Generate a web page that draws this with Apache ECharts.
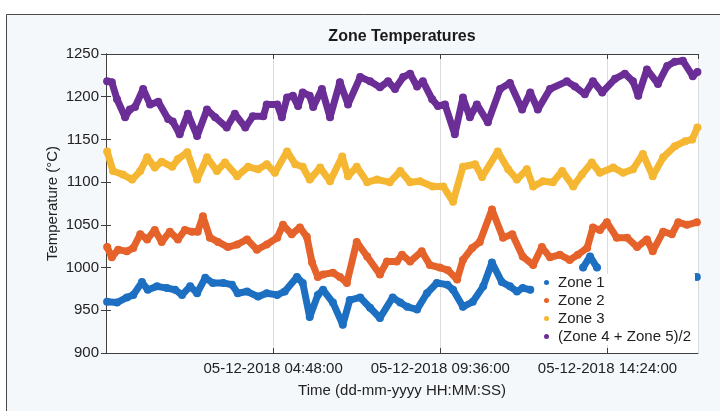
<!DOCTYPE html>
<html>
<head>
<meta charset="utf-8">
<script src="https://cdn.jsdelivr.net/npm/echarts@6/dist/echarts.min.js"></script>
<style>
  html, body { margin: 0; padding: 0; background: #ffffff; }
  #chart { width: 720px; height: 411px; }
</style>
</head>
<body>
<div id="chart"></div>
<script>
// Time is minutes after 05-12-2018 00:00:00; values are temperatures in °C.
const datePrefix = '05-12-2018';
const seriesNames = ['Zone 1', 'Zone 2', 'Zone 3', '(Zone 4 + Zone 5)/2'];
const seriesColors = ['#1d6fc2', '#e5622a', '#f5b632', '#6b2d96'];

const zone1 = [
  [2,960],[19,959],[36,965],[47,968],[62,983],[72,974],[88,978],[105,976],[119,974],[131,968],
  [145,978],[157,970],[171,988],[184,982],[202,982],[217,980],[227,970],[243,972],[262,966],[277,970],
  [295,968],[308,972],[329,989],[339,982],[351,942],[365,968],[374,974],[391,959],[408,933],[420,962],
  [438,965],[455,953],[472,941],[494,965],[507,959],[519,954],[536,951],[553,970],[570,982],[588,980],
  [598,974],[615,954],[632,960],[650,978],[665,1006],[682,983],[696,978],[708,972],[718,976],[731,974],
  [776,null],
  [822,1000],[834,1013],[846,1000],
  [930,null],
  [1018,989]
];

const zone2 = [
  [2,1024],[10,1012],[21,1021],[36,1019],[47,1023],[59,1039],[71,1033],[84,1044],[96,1030],[110,1042],
  [124,1033],[136,1044],[148,1042],[158,1042],[167,1060],[179,1035],[193,1030],[210,1024],[226,1027],[243,1033],
  [260,1021],[277,1027],[295,1035],[305,1050],[320,1039],[334,1047],[346,1036],[355,1006],[365,989],[374,992],
  [391,994],[403,989],[415,982],[432,1030],[450,1013],[472,992],[484,1007],[501,1007],[510,1015],[524,1007],
  [544,1019],[558,1003],[575,1000],[589,997],[605,986],[615,1009],[631,1023],[644,1030],[665,1068],[684,1035],
  [700,1039],[718,1013],[736,1003],[751,1024],[765,1012],[782,1015],[799,1009],[813,1015],[829,1023],[839,1047],
  [851,1044],[863,1053],[880,1035],[898,1035],[915,1024],[932,1033],[942,1019],[960,1042],[975,1039],[986,1053],
  [1001,1050],[1018,1053]
];

const zone3 = [
  [2,1136],[12,1113],[29,1109],[45,1103],[59,1113],[71,1129],[84,1117],[96,1124],[114,1118],[124,1127],
  [140,1135],[157,1103],[174,1129],[191,1113],[205,1123],[226,1107],[245,1118],[262,1115],[277,1121],[291,1111],
  [312,1136],[326,1121],[339,1118],[351,1103],[369,1117],[386,1101],[407,1130],[417,1107],[432,1118],[450,1100],
  [467,1103],[489,1100],[507,1113],[524,1100],[541,1101],[563,1095],[581,1095],[598,1077],[615,1118],[636,1121],
  [648,1106],[675,1136],[693,1115],[708,1103],[725,1115],[736,1095],[753,1101],[770,1100],[786,1113],[805,1095],
  [820,1109],[837,1123],[851,1111],[874,1117],[891,1111],[908,1115],[925,1133],[942,1107],[960,1129],[980,1142],
  [998,1148],[1010,1150],[1019,1164]
];

const zone45 = [
  [2,1218],[10,1217],[19,1197],[33,1176],[41,1185],[50,1188],[64,1209],[76,1191],[90,1194],[107,1174],
  [115,1171],[127,1156],[141,1180],[157,1154],[174,1185],[188,1176],[208,1164],[222,1180],[240,1164],[253,1177],
  [271,1177],[277,1191],[295,1191],[303,1176],[312,1199],[322,1201],[331,1189],[339,1205],[351,1201],[357,1188],
  [372,1209],[386,1176],[403,1217],[417,1191],[438,1223],[455,1218],[472,1211],[486,1218],[498,1209],[512,1223],
  [524,1227],[536,1212],[546,1218],[562,1197],[572,1189],[584,1191],[601,1156],[615,1199],[627,1176],[639,1191],
  [658,1170],[679,1209],[696,1216],[717,1185],[731,1205],[744,1185],[765,1209],[794,1218],[808,1212],[825,1203],
  [839,1218],[855,1205],[877,1221],[894,1227],[908,1218],[917,1201],[932,1232],[951,1215],[967,1236],[980,1241],
  [994,1242],[1011,1224],[1019,1229]
];

const seriesData = [zone1, zone2, zone3, zone45];

// axis ranges
const xMin = 0, xMax = 1020, xStep = 288;      // 288 min = 04:48:00
const yMin = 900, yMax = 1250, yStep = 50;

const FONT = '"Liberation Sans", Arial, Helvetica, sans-serif';
const AXIS_COLOR = '#3f3f3f';

function pad2(n) { return (n < 10 ? '0' : '') + n; }
function timeLabel(min) {
  const h = Math.floor(min / 60), m = Math.round(min % 60);
  return datePrefix + ' ' + pad2(h) + ':' + pad2(m) + ':00';
}

const chart = echarts.init(document.getElementById('chart'), null, { renderer: 'canvas' });

const boxAxisLine = { show: true, lineStyle: { color: AXIS_COLOR, width: 1 } };
const innerTick = { show: true, inside: true, length: 5, lineStyle: { color: AXIS_COLOR, width: 1 } };

chart.setOption({
  animation: false,
  backgroundColor: '#ffffff',
  graphic: [{
    type: 'rect',
    z: -10,
    silent: true,
    shape: { x: 6.5, y: 14.5, width: 730, height: 420 },
    style: { fill: '#f5f8fb', stroke: '#4a4a4a', lineWidth: 1 }
  }],
  title: {
    text: 'Zone Temperatures',
    left: 402,
    top: 29,
    padding: 0,
    textAlign: 'center',
    textStyle: { fontFamily: FONT, fontSize: 16, fontWeight: 'bold', color: '#1a1a1a' }
  },
  legend: {
    orient: 'vertical',
    left: 540,
    top: 274,
    padding: [1, 4, 1, 4],
    itemGap: 3,
    itemWidth: 5,
    itemHeight: 5,
    icon: 'circle',
    backgroundColor: '#ffffff',
    data: seriesNames,
    textStyle: { fontFamily: FONT, fontSize: 15, color: '#1e1e1e', padding: [0, 0, 0, 4] }
  },
  grid: {
    left: 106, right: 22, top: 54, bottom: 58,
    show: true, backgroundColor: '#ffffff', borderWidth: 0
  },
  xAxis: [{
    type: 'value',
    min: xMin, max: xMax, interval: xStep,
    position: 'bottom',
    axisLine: boxAxisLine,
    axisTick: innerTick,
    splitLine: { show: true, lineStyle: { color: '#dcdcdc', width: 1 } },
    axisLabel: {
      showMinLabel: false, showMaxLabel: false,
      margin: 8,
      fontFamily: FONT, fontSize: 15, color: '#222222',
      formatter: v => timeLabel(v)
    },
    name: 'Time (dd-mm-yyyy HH:MM:SS)',
    nameLocation: 'middle',
    nameGap: 30,
    nameMoveOverlap: false,
    nameTextStyle: { fontFamily: FONT, fontSize: 15, color: '#222222' }
  }, {
    type: 'value',
    min: xMin, max: xMax, interval: xStep,
    position: 'top',
    axisLine: boxAxisLine,
    axisTick: innerTick,
    axisLabel: { show: false },
    splitLine: { show: false }
  }],
  yAxis: [{
    type: 'value',
    min: yMin, max: yMax, interval: yStep,
    position: 'left',
    axisLine: boxAxisLine,
    axisTick: innerTick,
    splitLine: { show: false },
    axisLabel: {
      margin: 7, fontFamily: FONT, fontSize: 15, color: '#222222',
      formatter: v => String(v)
    },
    name: 'Temperature (°C)',
    nameLocation: 'middle',
    nameGap: 46,
    nameMoveOverlap: false,
    nameTextStyle: { fontFamily: FONT, fontSize: 15, color: '#222222' }
  }, {
    type: 'value',
    min: yMin, max: yMax, interval: yStep,
    position: 'right',
    axisLine: boxAxisLine,
    axisTick: innerTick,
    axisLabel: { show: false },
    splitLine: { show: false }
  }],
  series: seriesNames.map((name, i) => ({
    name: name,
    type: 'line',
    xAxisIndex: 0,
    yAxisIndex: 0,
    data: seriesData[i],
    connectNulls: false,
    symbol: 'circle',
    symbolSize: 8,
    showSymbol: true,
    itemStyle: { color: seriesColors[i] },
    lineStyle: { color: seriesColors[i], width: 7, cap: 'round', join: 'round' },
    z: 2 + i
  }))
});
</script>
</body>
</html>
